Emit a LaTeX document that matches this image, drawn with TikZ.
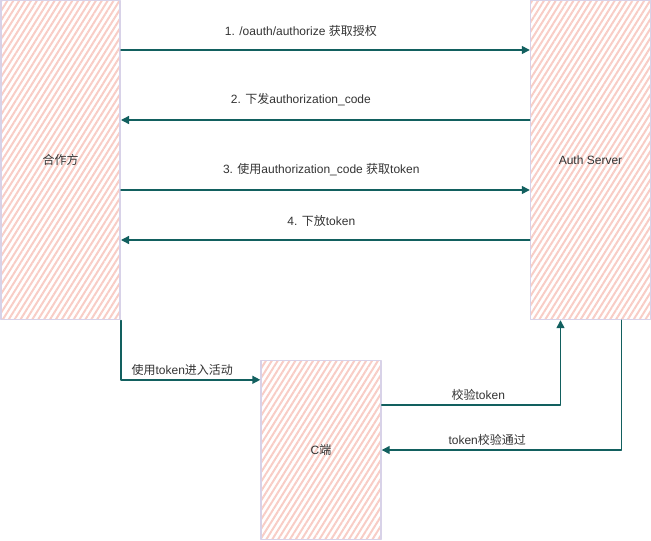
\documentclass[tikz,border=0pt]{standalone}
\usepackage{fontspec}
\setmainfont{Liberation Sans}
\newfontfamily\cjk{Noto Sans CJK SC}
\usetikzlibrary{patterns.meta,arrows.meta,calc}
\definecolor{hatchpink}{HTML}{F8CDC6}
\definecolor{boxline}{HTML}{D8D2E8}
\definecolor{flowteal}{HTML}{12605F}
\definecolor{txtgray}{HTML}{333333}
\begin{document}
\begin{tikzpicture}[x=1pt,y=-1pt,line join=round,line cap=round,
		font=\fontsize{12}{14}\selectfont,text=txtgray,
		party/.style={draw=boxline,line width=1.4pt,pattern={Lines[angle=58,distance=5pt,line width=2pt]},pattern color=hatchpink,inner sep=0pt},
		flow/.style={draw=flowteal,line width=1.4pt,-{Triangle[length=8pt,width=8pt]}},
		lbl/.style={above=4pt,inner sep=0pt},
		toplbl/.style={above=13pt,inner sep=0pt}]
	\useasboundingbox (0,0) rectangle (651,541);
	
	\node[party,minimum width=119pt,minimum height=319pt] (partner) at (60.5,160) {{\cjk 合作方}};
	\node[party,minimum width=120pt,minimum height=319pt] (auth) at (590.5,160) {Auth Server};
	\node[party,minimum width=120pt,minimum height=179pt] (cend) at (321,450) {C{\cjk 端}};
	
	\draw[flow] (partner.east |- 0,50) -- (auth.west |- 0,50) node[toplbl,pos=0.44]{1. /oauth/authorize {\cjk 获取授权}};
	\draw[flow] (auth.west |- 0,120) -- (partner.east |- 0,120) node[toplbl,pos=0.56]{2. {\cjk 下发}authorization\_code};
	\draw[flow] (partner.east |- 0,190) -- (auth.west |- 0,190) node[toplbl,pos=0.49]{3. {\cjk 使用}authorization\_code {\cjk 获取}token};
	\draw[flow] (auth.west |- 0,240) -- (partner.east |- 0,240) node[toplbl,pos=0.51]{4. {\cjk 下放}token};
	
	\draw[flow] (partner.south east) |- ($(cend.north west)+(0,20)$) node[lbl,pos=0.72]{{\cjk 使用}token{\cjk 进入活动}};
	\draw[flow] ($(cend.north east)+(0,45)$) -| ($(auth.south)+(-30,0)$) node[lbl,pos=0.27]{{\cjk 校验}token};
	\draw[flow] ($(auth.south)+(31,0)$) |- (cend.east) node[lbl,pos=0.78]{token{\cjk 校验通过}};
\end{tikzpicture}
\end{document}
